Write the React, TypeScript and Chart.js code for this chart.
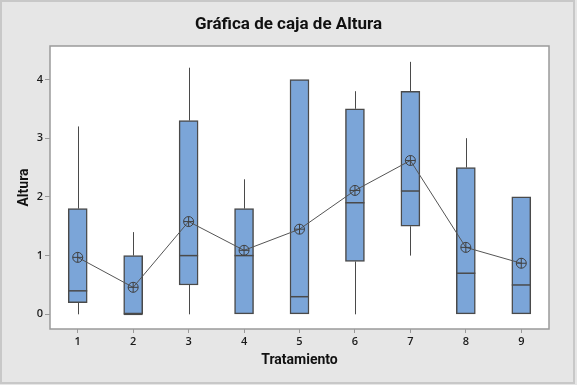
import React, { useEffect, useRef } from "react";
import { Chart, registerables } from "chart.js";

Chart.register(...registerables);

const categories = ["1", "2", "3", "4", "5", "6", "7", "8", "9"];
const whiskerLow = [0, 0, 0, 0, 0, 0, 1.0, 0, 0];
const q1 = [0.2, 0, 0.5, 0, 0, 0.9, 1.5, 0, 0];
const medians = [0.4, 0, 1.0, 1.0, 0.3, 1.9, 2.1, 0.7, 0.5];
const q3 = [1.8, 1.0, 3.3, 1.8, 4.0, 3.5, 3.8, 2.5, 2.0];
const whiskerHigh = [3.2, 1.4, 4.2, 2.3, 4.0, 3.8, 4.3, 3.0, 2.0];
const means = [0.97, 0.46, 1.58, 1.09, 1.45, 2.11, 2.62, 1.14, 0.87];
const yTicks = [0, 1, 2, 3, 4];

const titleText = "Gráfica de caja de Altura";
const xTitle = "Tratamiento";
const yTitle = "Altura";

const FONT = "'Open Sans', 'Noto Sans', sans-serif";
const TFONT = "Roboto, 'Open Sans', sans-serif";
const BOX_FILL = "#7ba5d8";
const DARK = "#4a4a4a";

const extrasPlugin = {
  id: "boxExtras",
  beforeDraw(chart: any) {
    const { ctx, chartArea: a, width, height } = chart;
    ctx.save();
    ctx.fillStyle = "#e6e6e6";
    ctx.fillRect(0, 0, width, height);
    ctx.strokeStyle = "#c8c8c8";
    ctx.lineWidth = 2;
    ctx.strokeRect(1, 1, width - 4, height - 3);
    ctx.fillStyle = "#ffffff";
    ctx.fillRect(a.left, a.top, a.right - a.left, a.bottom - a.top);
    ctx.fillStyle = "#111111";
    ctx.font = `bold 17px ${TFONT}`;
    ctx.textAlign = "center";
    ctx.textBaseline = "middle";
    ctx.fillText(titleText, width / 2, 25);
    ctx.restore();
  },
  afterDatasetDraw(chart: any, args: any) {
    if (args.index !== 0) return;
    const { ctx } = chart;
    const xs = chart.scales.x;
    const ys = chart.scales.y;
    const meta = chart.getDatasetMeta(0);
    ctx.save();
    ctx.strokeStyle = DARK;
    ctx.lineWidth = 1;
    categories.forEach((_, i) => {
      const x = Math.round(xs.getPixelForValue(i)) + 0.5;
      ctx.beginPath();
      ctx.moveTo(x, ys.getPixelForValue(whiskerLow[i]));
      ctx.lineTo(x, ys.getPixelForValue(q1[i]));
      ctx.moveTo(x, ys.getPixelForValue(q3[i]));
      ctx.lineTo(x, ys.getPixelForValue(whiskerHigh[i]));
      ctx.stroke();
    });
    ctx.lineWidth = 1.5;
    meta.data.forEach((bar: any, i: number) => {
      const half = bar.width / 2;
      const y = ys.getPixelForValue(medians[i]);
      ctx.beginPath();
      ctx.moveTo(bar.x - half, y);
      ctx.lineTo(bar.x + half, y);
      ctx.stroke();
    });
    ctx.restore();
  },
  afterDraw(chart: any) {
    const { ctx, chartArea: a } = chart;
    ctx.save();
    ctx.strokeStyle = "#9a9a9a";
    ctx.lineWidth = 1.5;
    ctx.strokeRect(a.left, a.top, a.right - a.left, a.bottom - a.top);
    ctx.restore();
  },
};

export default function App() {
  const ref = useRef<HTMLCanvasElement | null>(null);
  useEffect(() => {
    document.body.style.margin = "0";
    const canvas = ref.current!;
    const chart = new Chart(canvas, {
      type: "bar",
      data: {
        labels: categories,
        datasets: [
          {
            type: "bar",
            data: categories.map((_, i) => [q1[i], q3[i]]) as any,
            backgroundColor: BOX_FILL,
            borderColor: DARK,
            borderWidth: 1.5,
            borderSkipped: false,
            barThickness: 19,
            order: 10,
          } as any,
          {
            type: "line",
            data: means,
            borderColor: "#555555",
            borderWidth: 1,
            pointStyle: "circle",
            pointRadius: 5,
            pointBorderWidth: 1,
            pointBackgroundColor: "rgba(0,0,0,0)",
            pointBorderColor: "#404040",
            order: 2,
          } as any,
          {
            type: "line",
            data: means,
            showLine: false,
            pointStyle: "cross",
            pointRadius: 5,
            pointBorderWidth: 1,
            pointBorderColor: "#404040",
            order: 1,
          } as any,
        ],
      },
      options: {
        responsive: false,
        animation: false,
        devicePixelRatio: 1,
        layout: { padding: { top: 46, right: 28, left: 0, bottom: 0 } },
        plugins: { legend: { display: false }, tooltip: { enabled: false }, title: { display: false } },
        scales: {
          x: {
            type: "category",
            offset: true,
            grid: {
              display: true,
              offset: false,
              drawOnChartArea: false,
              drawTicks: true,
              tickLength: 4,
              color: "#999999",
            },
            border: { display: false },
            ticks: { font: { family: FONT, size: 11, weight: "600" }, color: "#1a1a1a", padding: 2 },
            title: {
              display: true,
              text: xTitle,
              font: { family: TFONT, size: 14, weight: "bold" },
              color: "#111111",
              padding: { top: 4, bottom: 16 },
            },
            afterFit(s: any) {
              s.height = 56;
            },
          },
          y: {
            min: -0.25,
            max: 4.57,
            grid: { display: true, drawOnChartArea: false, drawTicks: true, tickLength: 5, color: "#999999" },
            border: { display: false },
            ticks: { font: { family: FONT, size: 11, weight: "600" }, color: "#1a1a1a", padding: 2 },
            afterBuildTicks(s: any) {
              s.ticks = yTicks.map((v) => ({ value: v }));
            },
            title: {
              display: true,
              text: yTitle,
              font: { family: TFONT, size: 14, weight: "bold" },
              color: "#111111",
              padding: { top: 16, bottom: 0 },
            },
            afterFit(s: any) {
              s.width = 50;
            },
          },
        },
      } as any,
      plugins: [extrasPlugin],
    });
    return () => chart.destroy();
  }, []);
  return (
    <div style={{ width: 577, height: 385 }}>
      <canvas ref={ref} width={577} height={385} />
    </div>
  );
}
